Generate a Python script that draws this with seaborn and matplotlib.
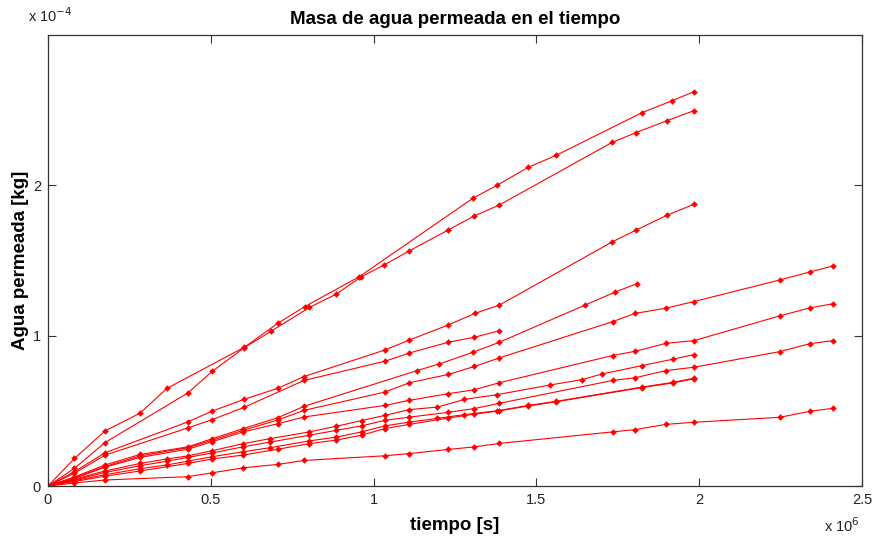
import numpy as np
import pandas as pd
import matplotlib
matplotlib.use("Agg")
import matplotlib.pyplot as plt
import matplotlib.ticker as mticker
import seaborn as sns

# Times in units of 1e6 s, permeated mass in units of 1e-4 kg
t_a = [0, 0.081, 0.175, 0.283, 0.365, 0.603, 0.707, 0.789, 0.955, 1.305, 1.379, 1.474, 1.560, 1.824, 1.917, 1.984]
m_a = [0, 0.183, 0.366, 0.485, 0.649, 0.923, 1.084, 1.194, 1.391, 1.914, 2.000, 2.119, 2.199, 2.483, 2.563, 2.623]

t_b = [0, 0.081, 0.175, 0.429, 0.505, 0.603, 0.684, 0.803, 0.885, 0.961, 1.032, 1.109, 1.228, 1.308, 1.385, 1.732, 1.806, 1.901, 1.984]
m_b = [0, 0.117, 0.289, 0.618, 0.764, 0.920, 1.028, 1.188, 1.276, 1.390, 1.470, 1.563, 1.702, 1.795, 1.868, 2.285, 2.351, 2.430, 2.497]

t_c = [0, 0.081, 0.175, 0.429, 0.505, 0.602, 0.707, 0.786, 1.035, 1.110, 1.229, 1.311, 1.386, 1.732, 1.806, 1.901, 1.984]
m_c = [0, 0.095, 0.221, 0.426, 0.499, 0.576, 0.651, 0.728, 0.905, 0.971, 1.071, 1.148, 1.203, 1.623, 1.702, 1.801, 1.874]

t_l = [0, 0.081, 0.175, 0.429, 0.505, 0.602, 0.786, 1.035, 1.110, 1.229, 1.309, 1.386]
m_l = [0, 0.085, 0.205, 0.386, 0.442, 0.523, 0.702, 0.830, 0.885, 0.956, 0.989, 1.033]

t_d = [0, 0.081, 0.175, 0.283, 0.429, 0.505, 0.600, 0.707, 0.786, 1.134, 1.202, 1.304, 1.386, 1.649, 1.741, 1.810]
m_d = [0, 0.060, 0.140, 0.210, 0.260, 0.315, 0.382, 0.455, 0.530, 0.768, 0.812, 0.889, 0.956, 1.203, 1.289, 1.347]

t_h = [0, 0.081, 0.175, 0.283, 0.429, 0.505, 0.600, 0.707, 0.786, 1.035, 1.110, 1.229, 1.309, 1.386, 1.734, 1.803, 1.898, 1.984, 2.248, 2.340, 2.411]
m_h = [0, 0.055, 0.130, 0.200, 0.255, 0.305, 0.371, 0.440, 0.503, 0.625, 0.687, 0.742, 0.795, 0.852, 1.093, 1.148, 1.183, 1.227, 1.371, 1.424, 1.464]

t_i = [0, 0.081, 0.175, 0.283, 0.429, 0.505, 0.600, 0.707, 0.786, 1.035, 1.110, 1.229, 1.309, 1.386, 1.734, 1.803, 1.898, 1.984, 2.248, 2.340, 2.411]
m_i = [0, 0.050, 0.125, 0.190, 0.245, 0.295, 0.360, 0.415, 0.459, 0.536, 0.570, 0.614, 0.640, 0.687, 0.868, 0.896, 0.949, 0.967, 1.132, 1.185, 1.212]

t_m = [0, 0.081, 0.175, 0.283, 0.365, 0.429, 0.505, 0.600, 0.682, 0.803, 0.885, 0.963, 1.035, 1.110, 1.196, 1.279, 1.378, 1.542, 1.639, 1.703, 1.825, 1.918, 1.984]
m_m = [0, 0.045, 0.100, 0.150, 0.180, 0.200, 0.235, 0.282, 0.315, 0.360, 0.397, 0.435, 0.470, 0.508, 0.525, 0.576, 0.607, 0.672, 0.707, 0.746, 0.801, 0.843, 0.874]

t_j = [0, 0.081, 0.175, 0.283, 0.365, 0.429, 0.505, 0.600, 0.682, 0.803, 0.885, 0.963, 1.035, 1.110, 1.229, 1.309, 1.386, 1.734, 1.803, 1.898, 1.984, 2.248, 2.340, 2.411]
m_j = [0, 0.040, 0.090, 0.135, 0.165, 0.190, 0.220, 0.261, 0.292, 0.338, 0.370, 0.400, 0.437, 0.458, 0.490, 0.515, 0.550, 0.702, 0.720, 0.768, 0.790, 0.894, 0.947, 0.967]

t_n = [0, 0.081, 0.175, 0.283, 0.365, 0.429, 0.505, 0.600, 0.682, 0.803, 0.885, 0.963, 1.035, 1.110, 1.196, 1.279, 1.378, 1.475, 1.560, 1.825, 1.918, 1.984]
m_n = [0, 0.035, 0.075, 0.115, 0.140, 0.165, 0.195, 0.228, 0.255, 0.300, 0.325, 0.360, 0.400, 0.425, 0.450, 0.475, 0.500, 0.536, 0.563, 0.658, 0.689, 0.717]

t_p = [0, 0.081, 0.175, 0.283, 0.429, 0.505, 0.600, 0.707, 0.803, 0.885, 0.963, 1.035, 1.110, 1.229, 1.309, 1.386, 1.475, 1.560, 1.825, 1.918, 1.984]
m_p = [0, 0.030, 0.065, 0.100, 0.150, 0.180, 0.206, 0.245, 0.282, 0.305, 0.338, 0.382, 0.410, 0.452, 0.478, 0.500, 0.532, 0.560, 0.655, 0.685, 0.713]

t_k = [0, 0.081, 0.175, 0.429, 0.505, 0.600, 0.707, 0.786, 1.035, 1.110, 1.229, 1.309, 1.386, 1.734, 1.803, 1.898, 1.984, 2.248, 2.340, 2.411]
m_k = [0, 0.020, 0.040, 0.062, 0.088, 0.121, 0.144, 0.170, 0.201, 0.216, 0.243, 0.260, 0.283, 0.360, 0.375, 0.410, 0.424, 0.457, 0.497, 0.517]

series = {
    "A": (t_a, m_a), "B": (t_b, m_b), "C": (t_c, m_c), "L": (t_l, m_l),
    "D": (t_d, m_d), "H": (t_h, m_h), "I": (t_i, m_i), "M": (t_m, m_m),
    "J": (t_j, m_j), "N": (t_n, m_n), "P": (t_p, m_p), "K": (t_k, m_k),
}

T_SCALE = 1e6
M_SCALE = 1e-4

rows = []
for name, (tt, mm) in series.items():
    for tv, mv in zip(tt, mm):
        rows.append({"muestra": name, "t": tv * T_SCALE, "m": mv * M_SCALE})
df = pd.DataFrame(rows)

sns.set_theme(style="white")
plt.rcParams["font.family"] = ["Liberation Sans", "DejaVu Sans"]

fig = plt.figure(figsize=(8.73, 5.41), dpi=100)
ax = fig.add_axes([48 / 873, 55 / 541, (862 - 48) / 873, (486 - 35) / 541])

sns.lineplot(data=df, x="t", y="m", units="muestra", estimator=None,
             sort=False, color="#ff0000", linewidth=0.8, marker="D",
             markersize=3.0, markeredgewidth=0.3, markeredgecolor="#ff0000",
             ax=ax, legend=False)

ax.set_xlim(0, 2.5e6)
ax.set_ylim(0, 3e-4)
ax.set_xticks(np.arange(0, 2.51e6, 0.5e6))
ax.set_yticks([0, 1e-4, 2e-4])
ax.xaxis.set_major_formatter(mticker.FuncFormatter(lambda v, p: f"{v / T_SCALE:g}"))
ax.yaxis.set_major_formatter(mticker.FuncFormatter(lambda v, p: f"{v / M_SCALE:g}"))

for s in ax.spines.values():
    s.set_color("#333333")
    s.set_linewidth(0.9)
ax.tick_params(axis="both", which="both", direction="in", length=6, width=0.8,
               color="#333333", labelsize=10.5, labelcolor="#222222",
               top=True, right=True, bottom=True, left=True, pad=5)

ax.set_title("Masa de agua permeada en el tiempo", fontsize=13.5,
             fontweight="bold", color="black", pad=8)
ax.set_xlabel("tiempo [s]", fontsize=13.5, fontweight="bold", color="black", labelpad=7)
ax.set_ylabel("Agua permeada [kg]", fontsize=13.5, fontweight="bold", color="black", labelpad=3)

fig.text(28 / 873, 1 - 22 / 541, r"x 10$^{-4}$", fontsize=10.5, color="#222222",
         ha="left", va="baseline")
fig.text(824 / 873, 1 - 532 / 541, r"x 10$^{6}$", fontsize=10.5, color="#222222",
         ha="left", va="baseline")

fig.savefig("out.png", dpi=100, facecolor="white")
